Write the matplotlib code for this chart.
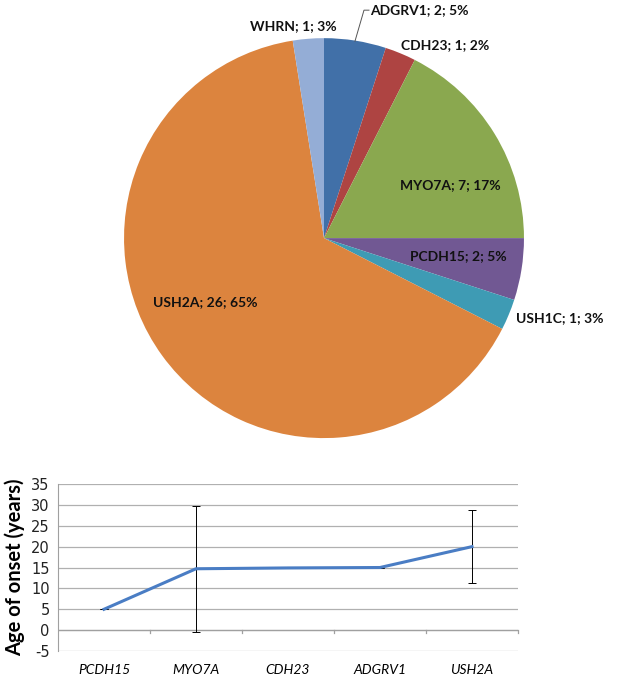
import matplotlib
matplotlib.use('Agg')
import matplotlib.pyplot as plt

plt.rcParams['axes.unicode_minus'] = False

# pie data
genes = ['ADGRV1', 'CDH23', 'MYO7A', 'PCDH15', 'USH1C', 'USH2A', 'WHRN']
counts = [2, 1, 7, 2, 1, 26, 1]
pcts = ['5%', '2%', '17%', '5%', '3%', '65%', '3%']
pie_colors = ['#4170A8', '#AE4442', '#8AA84F', '#715893', '#3E9BB4', '#DC843E', '#94ADD6']

# line data
onset_genes = ['PCDH15', 'MYO7A', 'CDH23', 'ADGRV1', 'USH2A']
onset_age = [5, 14.7, 14.9, 15, 20]
onset_err = [0, 15.1, 0, 0, 8.7]

fig = plt.figure(figsize=(6.25, 6.79), dpi=100)

# ---- pie ----
ax1 = fig.add_axes([0.1984, 0.3548, 0.64, 0.589])
ax1.pie(counts, colors=pie_colors, startangle=90, counterclock=False,
        wedgeprops=dict(linewidth=0))
ax1.set_xlim(-1, 1)
ax1.set_ylim(-1, 1)
ax1.set_aspect('equal')
ax1.axis('off')

label_pos = {'ADGRV1': (0.23, 1.14), 'CDH23': (0.605, 0.965), 'MYO7A': (0.63, 0.265),
             'PCDH15': (0.67, -0.09), 'USH1C': (1.18, -0.40), 'USH2A': (-0.595, -0.32),
             'WHRN': (-0.155, 1.06)}
for g, c, p in zip(genes, counts, pcts):
    x, y = label_pos[g]
    ha = 'left' if g == 'ADGRV1' else 'center'
    ax1.text(x, y, f'{g}; {c}; {p}', ha=ha, va='center', fontsize=10,
             fontweight='bold', family='Lato', color='#111111', clip_on=False)
# leader line for ADGRV1
ax1.plot([0.155, 0.20, 0.225], [0.985, 1.14, 1.14], color='#555555', lw=0.7, clip_on=False)

# ---- line chart ----
ax2 = fig.add_axes([0.0928, 0.0412, 0.736, 0.246])
x = range(len(onset_genes))
ax2.errorbar(x, onset_age, yerr=onset_err, color='#4A7DC4', lw=2.2,
             ecolor='black', elinewidth=0.7, capsize=3, capthick=0.7, zorder=3)
ax2.set_xlim(-0.5, 4.5)
ax2.set_ylim(-5, 35)
ax2.set_yticks(range(-5, 40, 5))
ax2.yaxis.grid(True, color='#B0B0B0', lw=0.9)
ax2.set_axisbelow(True)
for s in ['top', 'right', 'bottom']:
    ax2.spines[s].set_visible(False)
ax2.spines['left'].set_color('#A0A0A0')
ax2.tick_params(axis='y', length=0, labelsize=10.5, pad=6, labelcolor='#222222')
ax2.set_xticks(list(x))
ax2.set_xticklabels(onset_genes, style='italic', fontsize=10, family='Lato')
ax2.tick_params(axis='x', length=0, pad=9)
# x axis at zero with ticks between categories
ax2.axhline(0, color='#A0A0A0', lw=0.9, zorder=1)
for b in [0.5, 1.5, 2.5, 3.5, 4.5]:
    ax2.plot([b, b], [0, -0.8], color='#A0A0A0', lw=0.9, clip_on=False)
ax2.set_ylabel('Age of onset (years)', fontsize=14.5, fontweight='bold', family='Lato', labelpad=4)

fig.savefig('out.png', dpi=100, facecolor='white')
